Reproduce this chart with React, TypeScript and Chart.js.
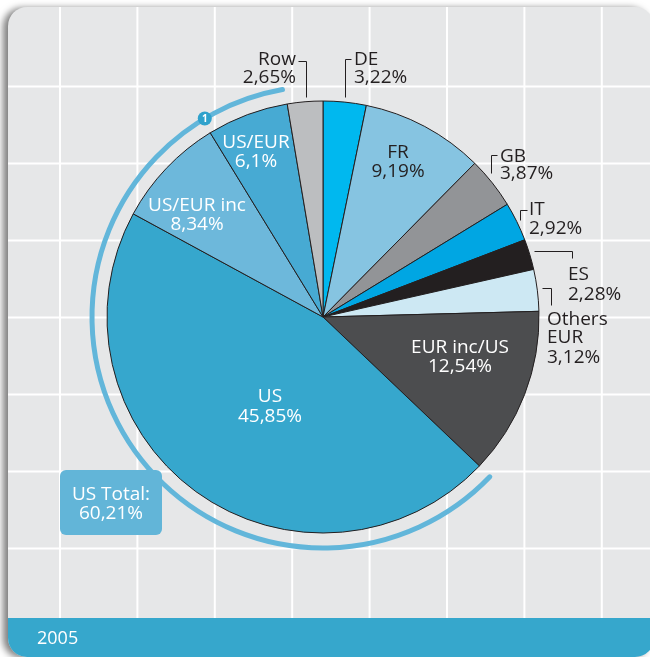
import React, { useEffect, useRef } from "react";
import { Chart, registerables } from "chart.js";

Chart.register(...registerables);

// ---- data ----
const CATEGORIES = [
  "DE",
  "FR",
  "GB",
  "IT",
  "ES",
  "Others\nEUR",
  "EUR inc/US",
  "US",
  "US/EUR inc",
  "US/EUR",
  "Row",
];
const SHARES = [3.22, 9.19, 3.87, 2.92, 2.28, 3.12, 12.54, 45.85, 8.34, 6.1, 2.65];
const SLICE_COLORS = [
  "#00b8ef",
  "#86c4e1",
  "#929497",
  "#00a6e3",
  "#231f20",
  "#cde8f3",
  "#4c4d4f",
  "#36a7cd",
  "#6db8db",
  "#47aad3",
  "#bcbec0",
];
const US_GROUP = ["US", "US/EUR inc", "US/EUR"];
const US_TOTAL_LABEL = "US Total:";
const US_TOTAL = 60.21;
const MARKER_TEXT = "1";
const YEAR = "2005";

// ---- layout / styles ----
const DARK = "#231f20";
const WHITE = "#ffffff";
const FONT = '19px "Open Sans"';

type Layout = {
  align: CanvasTextAlign;
  dx: number;
  dy: number[];
  color: string;
  leader?: number[][];
};

const LABEL_LAYOUT: Layout[] = [
  { align: "left", dx: 31, dy: [-252, -234], color: DARK, leader: [[28, -258], [22, -258], [22, -220]] },
  { align: "center", dx: 75, dy: [-159, -140], color: DARK },
  { align: "left", dx: 177, dy: [-155, -138], color: DARK, leader: [[174, -162], [168, -162], [168, -144]] },
  { align: "left", dx: 206, dy: [-102, -83], color: DARK, leader: [[204, -107], [197, -107], [197, -97]] },
  { align: "left", dx: 245, dy: [-37, -17], color: DARK, leader: [[211, -66], [249, -66], [249, -59]] },
  { align: "left", dx: 224, dy: [8, 26, 46], color: DARK, leader: [[219, -29], [228, -29], [228, -12]] },
  { align: "center", dx: 137, dy: [36, 55], color: WHITE },
  { align: "center", dx: -53, dy: [85, 105], color: WHITE },
  { align: "center", dx: -126, dy: [-106, -87], color: WHITE },
  { align: "center", dx: -67, dy: [-169, -150], color: WHITE },
  { align: "right", dx: -27, dy: [-252, -234], color: DARK, leader: [[-25, -256], [-17, -256], [-17, -220]] },
];

const fmt = (v: number) => String(v).replace(".", ",") + "%";

const decorPlugin = {
  id: "decor",
  beforeDraw(chart: any) {
    const ctx: CanvasRenderingContext2D = chart.ctx;
    const W = chart.width;
    const H = chart.height;
    ctx.save();
    ctx.fillStyle = "#ffffff";
    ctx.fillRect(0, 0, W, H);

    const px = 8, py = 7, pw = 654 - 8, ph = 657 - 7;
    ctx.save();
    ctx.shadowColor = "rgba(0,0,0,0.5)";
    ctx.shadowBlur = 7;
    ctx.shadowOffsetX = -5;
    ctx.shadowOffsetY = 1;
    ctx.fillStyle = "#e6e7e8";
    ctx.beginPath();
    (ctx as any).roundRect(px, py, pw, ph, 19);
    ctx.fill();
    ctx.restore();

    ctx.save();
    ctx.beginPath();
    (ctx as any).roundRect(px, py, pw, ph, 19);
    ctx.clip();
    ctx.strokeStyle = "#ffffff";
    ctx.lineWidth = 2;
    for (let i = 0; i < 9; i++) {
      const x = 60 + i * 77.4;
      ctx.beginPath();
      ctx.moveTo(x, py);
      ctx.lineTo(x, H);
      ctx.stroke();
    }
    for (let j = 0; j < 7; j++) {
      const y = 86.5 + j * 77;
      ctx.beginPath();
      ctx.moveTo(px, y);
      ctx.lineTo(W, y);
      ctx.stroke();
    }
    ctx.fillStyle = "#36a7cc";
    ctx.fillRect(px, 618, pw, H - 618);
    ctx.fillStyle = "#ffffff";
    ctx.font = '18px "Open Sans"';
    ctx.textAlign = "left";
    ctx.textBaseline = "alphabetic";
    ctx.fillText(YEAR, 37, 644);
    ctx.restore();
    ctx.restore();
  },
  afterDatasetsDraw(chart: any) {
    const ctx: CanvasRenderingContext2D = chart.ctx;
    const meta = chart.getDatasetMeta(0);
    const arcs = meta.data;
    const cx = arcs[0].x;
    const cy = arcs[0].y;
    const R = arcs[0].outerRadius;
    ctx.save();

    // US group arc
    const idx = US_GROUP.map((n) => CATEGORIES.indexOf(n));
    const a0 = Math.min(...idx.map((i) => arcs[i].startAngle));
    const a1 = Math.max(...idx.map((i) => arcs[i].endAngle));
    const rr = R + 15;
    ctx.strokeStyle = "#62b6da";
    ctx.lineWidth = 5;
    ctx.lineCap = "round";
    ctx.beginPath();
    ctx.arc(cx, cy, rr, a0 + 0.003, a1 - 0.01);
    ctx.stroke();

    // marker "1"
    const ma = arcs[CATEGORIES.indexOf("US/EUR")].startAngle + 0.012;
    const mx = cx + rr * Math.cos(ma);
    const my = cy + rr * Math.sin(ma);
    ctx.fillStyle = "#2fa2cc";
    ctx.beginPath();
    ctx.arc(mx, my, 7, 0, Math.PI * 2);
    ctx.fill();
    ctx.fillStyle = "#ffffff";
    ctx.font = 'bold 10px "Open Sans"';
    ctx.textAlign = "center";
    ctx.textBaseline = "middle";
    ctx.fillText(MARKER_TEXT, mx, my + 0.5);

    // US total box
    ctx.fillStyle = "#62b5d8";
    ctx.beginPath();
    (ctx as any).roundRect(cx - 263, cy + 153, 102, 65, 6);
    ctx.fill();
    ctx.fillStyle = "#ffffff";
    ctx.font = FONT;
    ctx.textAlign = "center";
    ctx.textBaseline = "alphabetic";
    ctx.fillText(US_TOTAL_LABEL, cx - 212, cy + 183);
    ctx.fillText(fmt(US_TOTAL), cx - 212, cy + 202);

    // labels
    LABEL_LAYOUT.forEach((L, i) => {
      const lines = [...CATEGORIES[i].split("\n"), fmt(SHARES[i])];
      ctx.fillStyle = L.color;
      ctx.textAlign = L.align;
      ctx.font = FONT;
      lines.forEach((t, k) => ctx.fillText(t, cx + L.dx, cy + L.dy[k]));
      if (L.leader) {
        ctx.strokeStyle = DARK;
        ctx.lineWidth = 1;
        ctx.lineCap = "butt";
        ctx.beginPath();
        L.leader.forEach(([x, y], k) => {
          const X = Math.round(cx + x) + 0.5;
          const Y = Math.round(cy + y) + 0.5;
          if (k === 0) ctx.moveTo(X, Y);
          else ctx.lineTo(X, Y);
        });
        ctx.stroke();
      }
    });
    ctx.restore();
  },
};

export default function App() {
  const ref = useRef<HTMLCanvasElement>(null);
  useEffect(() => {
    const chart = new Chart(ref.current as HTMLCanvasElement, {
      type: "pie",
      data: {
        labels: CATEGORIES,
        datasets: [
          {
            data: SHARES,
            backgroundColor: SLICE_COLORS,
            borderColor: DARK,
            borderWidth: 1,
          },
        ],
      },
      options: {
        animation: false,
        responsive: false,
        devicePixelRatio: 1,
        radius: 216,
        layout: { padding: { left: 107, right: 111, top: 101, bottom: 124 } },
        plugins: {
          legend: { display: false },
          tooltip: { enabled: false },
        },
      } as any,
      plugins: [decorPlugin],
    });
    return () => chart.destroy();
  }, []);
  return (
    <div style={{ position: "absolute", left: 0, top: 0, width: 650, height: 657 }}>
      <canvas ref={ref} width={650} height={657} style={{ display: "block", width: 650, height: 657 }} />
    </div>
  );
}
